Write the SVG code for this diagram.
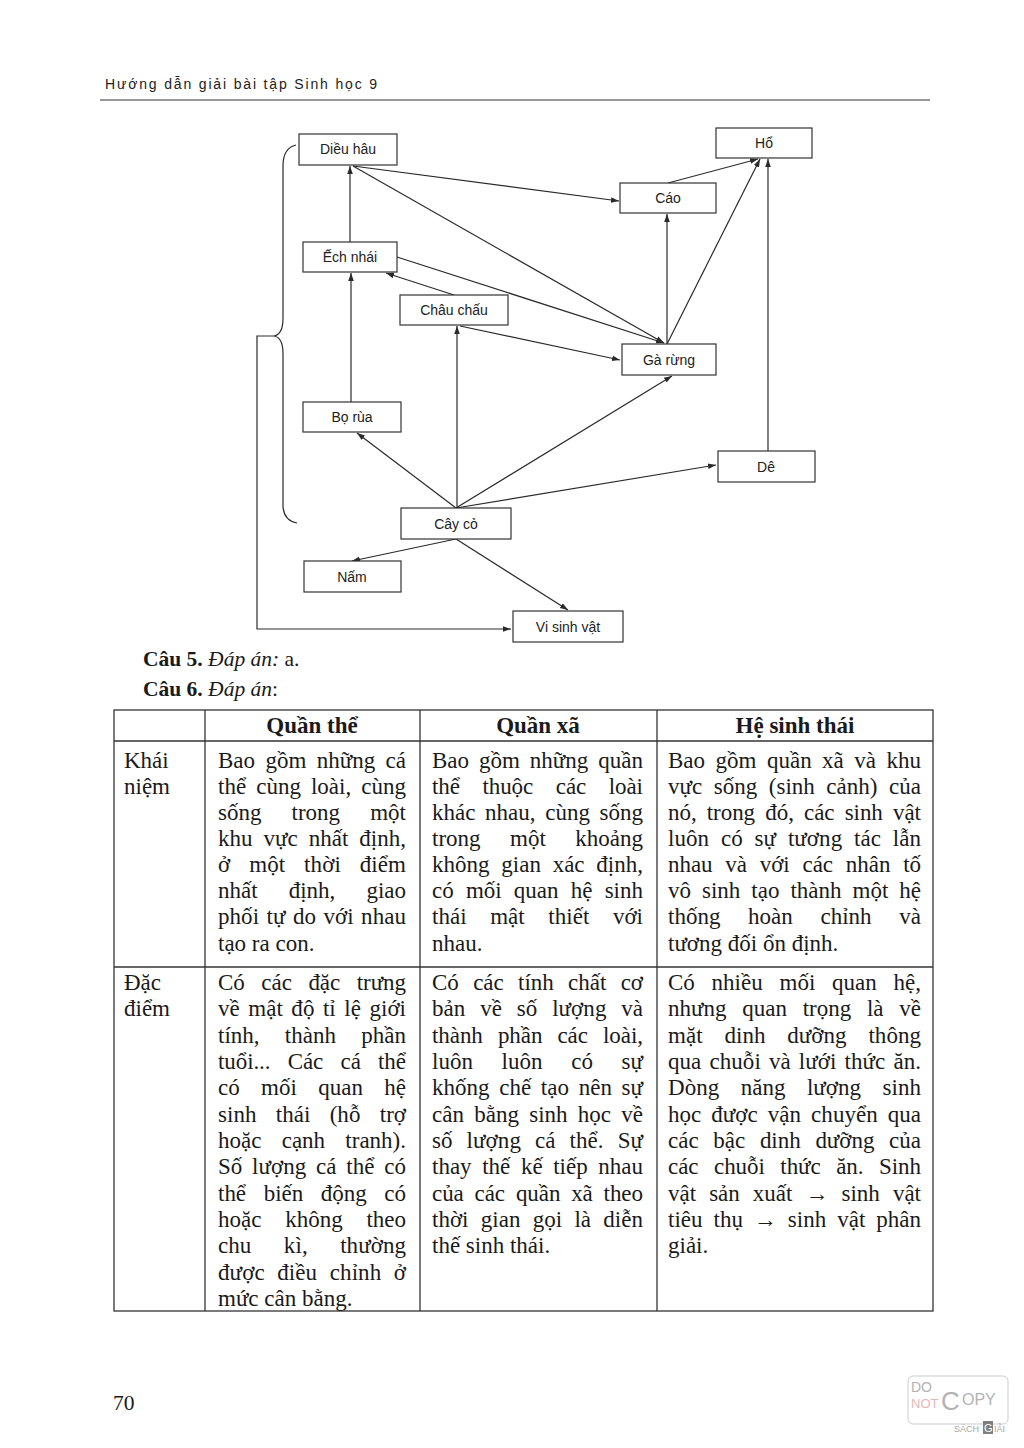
<svg xmlns="http://www.w3.org/2000/svg" width="1024" height="1448" viewBox="0 0 1024 1448">
<style>
.bg{fill:#fff}
.node rect{fill:#fff;stroke:#333;stroke-width:1.2}
.node text{font-family:"Liberation Sans",Arial,sans-serif;font-size:14px;fill:#222;text-anchor:middle}
.conn path{fill:none;stroke:#2a2a2a;stroke-width:1.2}
.hdr{font-family:"Liberation Sans",Arial,sans-serif;font-size:14px;fill:#222}
.tb{font-family:"Liberation Serif","Times New Roman",serif;font-size:23px;fill:#1a1a1a}
.th{font-family:"Liberation Serif","Times New Roman",serif;font-size:23px;font-weight:bold;fill:#1a1a1a;text-anchor:middle}
.q{font-family:"Liberation Serif","Times New Roman",serif;font-size:21.5px;fill:#1a1a1a}
.grid{stroke:#333;stroke-width:1.3;fill:none}
</style>
<defs>
<marker id="ah" viewBox="0 0 10 10" refX="10" refY="5" markerWidth="8" markerHeight="8" markerUnits="userSpaceOnUse" orient="auto"><path d="M0,1.5 L10,5 L0,8.5 z" fill="#2a2a2a"/></marker>
</defs>
<rect class="bg" x="0" y="0" width="1024" height="1448"/>

<!-- page header -->
<text class="hdr" x="105" y="89" textLength="272" lengthAdjust="spacing">Hướng dẫn giải bài tập Sinh học 9</text>
<line x1="100" y1="100" x2="930" y2="100" stroke="#333" stroke-width="1.2"/>

<!-- connectors -->
<g id="connectors" class="conn">
<path d="M350,242 L350,166" marker-end="url(#ah)"/>
<path d="M351,402 L351,273" marker-end="url(#ah)"/>
<path d="M454,295 L386,273" marker-end="url(#ah)"/>
<path d="M353,166 L619,201" marker-end="url(#ah)"/>
<path d="M353,166 L664,343" marker-end="url(#ah)"/>
<path d="M397,257 L664,343" marker-end="url(#ah)"/>
<path d="M667,344 L667,214" marker-end="url(#ah)"/>
<path d="M667,344 L760,159" marker-end="url(#ah)"/>
<path d="M668,183 L758,159" marker-end="url(#ah)"/>
<path d="M768,451 L768,159" marker-end="url(#ah)"/>
<path d="M460,326 L620,360" marker-end="url(#ah)"/>
<path d="M456,508 L357,433" marker-end="url(#ah)"/>
<path d="M457,508 L457,326" marker-end="url(#ah)"/>
<path d="M456,508 L672,376" marker-end="url(#ah)"/>
<path d="M456,508 L716,465" marker-end="url(#ah)"/>
<path d="M456,539 L352,561" marker-end="url(#ah)"/>
<path d="M456,539 L568,610" marker-end="url(#ah)"/>
<path d="M296,145 C287,147 283,155 283,166 L283,318 C283,330 280,335 274,336 C280,337 283,342 283,354 L283,505 C283,515 287,521 297,523"/>
<path d="M274,336 L257,336 L257,629 L511,629" marker-end="url(#ah)"/>
</g>

<!-- nodes -->
<g id="n-dieuhau" class="node"><rect x="299" y="134" width="98" height="31"/><text x="348" y="154">Diều hâu</text></g>
<g id="n-ho" class="node"><rect x="716" y="128" width="96" height="30"/><text x="764" y="148">Hổ</text></g>
<g id="n-cao" class="node"><rect x="620" y="183" width="96" height="30"/><text x="668" y="203">Cáo</text></g>
<g id="n-echnhai" class="node"><rect x="303" y="242" width="94" height="30"/><text x="350" y="262">Ếch nhái</text></g>
<g id="n-chauchau" class="node"><rect x="400" y="295" width="108" height="30"/><text x="454" y="315">Châu chấu</text></g>
<g id="n-garung" class="node"><rect x="622" y="344" width="94" height="31"/><text x="669" y="365">Gà rừng</text></g>
<g id="n-borua" class="node"><rect x="303" y="402" width="98" height="30"/><text x="352" y="422">Bọ rùa</text></g>
<g id="n-de" class="node"><rect x="718" y="451" width="97" height="31"/><text x="766" y="472">Dê</text></g>
<g id="n-cayco" class="node"><rect x="401" y="508" width="110" height="31"/><text x="456" y="529">Cây cỏ</text></g>
<g id="n-nam" class="node"><rect x="304" y="561" width="97" height="31"/><text x="352" y="582">Nấm</text></g>
<g id="n-visinhvat" class="node"><rect x="513" y="611" width="110" height="31"/><text x="568" y="632">Vi sinh vật</text></g>

<!-- questions -->
<text class="q" x="143" y="666"><tspan font-weight="bold">Câu 5.</tspan> <tspan font-style="italic">Đáp án:</tspan> a.</text>
<text class="q" x="143" y="696"><tspan font-weight="bold">Câu 6.</tspan> <tspan font-style="italic">Đáp án</tspan>:</text>

<!-- table -->
<g id="table">
<rect class="grid" x="114" y="710" width="819" height="601"/>
<line class="grid" x1="114" y1="741" x2="933" y2="741"/>
<line class="grid" x1="114" y1="967" x2="933" y2="967"/>
<line class="grid" x1="205" y1="710" x2="205" y2="1311"/>
<line class="grid" x1="420" y1="710" x2="420" y2="1311"/>
<line class="grid" x1="657" y1="710" x2="657" y2="1311"/>

<text class="th" x="312" y="733">Quần thể</text>
<text class="th" x="538" y="733">Quần xã</text>
<text class="th" x="795" y="733">Hệ sinh thái</text>

<text class="tb" x="124" y="768">Khái</text>
<text class="tb" x="124" y="794">niệm</text>

<g class="tb">
<text x="218" y="768" word-spacing="4.5" textLength="188" lengthAdjust="spacing">Bao gồm những cá</text>
<text x="218" y="794" word-spacing="4.3" textLength="188" lengthAdjust="spacing">thể cùng loài, cùng</text>
<text x="218" y="820" word-spacing="24.4" textLength="188" lengthAdjust="spacing">sống trong một</text>
<text x="218" y="846" word-spacing="5.1" textLength="188" lengthAdjust="spacing">khu vực nhất định,</text>
<text x="218" y="872" word-spacing="13.1" textLength="188" lengthAdjust="spacing">ở một thời điểm</text>
<text x="218" y="898" word-spacing="25.3" textLength="188" lengthAdjust="spacing">nhất định, giao</text>
<text x="218" y="924" word-spacing="1.6" textLength="188" lengthAdjust="spacing">phối tự do với nhau</text>
<text x="218" y="951">tạo ra con.</text>

<text x="432" y="768" word-spacing="4.1" textLength="211" lengthAdjust="spacing">Bao gồm những quần</text>
<text x="432" y="794" word-spacing="16.9" textLength="211" lengthAdjust="spacing">thể thuộc các loài</text>
<text x="432" y="820" word-spacing="3.9" textLength="211" lengthAdjust="spacing">khác nhau, cùng sống</text>
<text x="432" y="846" word-spacing="23.7" textLength="211" lengthAdjust="spacing">trong một khoảng</text>
<text x="432" y="872" word-spacing="6" textLength="211" lengthAdjust="spacing">không gian xác định,</text>
<text x="432" y="898" word-spacing="6.4" textLength="211" lengthAdjust="spacing">có mối quan hệ sinh</text>
<text x="432" y="924" word-spacing="17.8" textLength="211" lengthAdjust="spacing">thái mật thiết với</text>
<text x="432" y="951">nhau.</text>

<text x="668" y="768" word-spacing="4.7" textLength="253" lengthAdjust="spacing">Bao gồm quần xã và khu</text>
<text x="668" y="794" word-spacing="5.7" textLength="253" lengthAdjust="spacing">vực sống (sinh cảnh) của</text>
<text x="668" y="820" word-spacing="4.5" textLength="253" lengthAdjust="spacing">nó, trong đó, các sinh vật</text>
<text x="668" y="846" word-spacing="6" textLength="253" lengthAdjust="spacing">luôn có sự tương tác lẫn</text>
<text x="668" y="872" word-spacing="7.1" textLength="253" lengthAdjust="spacing">nhau và với các nhân tố</text>
<text x="668" y="898" word-spacing="5.2" textLength="253" lengthAdjust="spacing">vô sinh tạo thành một hệ</text>
<text x="668" y="924" word-spacing="21.9" textLength="253" lengthAdjust="spacing">thống hoàn chỉnh và</text>
<text x="668" y="951">tương đối ổn định.</text>
</g>

<text class="tb" x="124" y="990">Đặc</text>
<text class="tb" x="124" y="1016">điểm</text>

<g class="tb">
<text x="218" y="990" word-spacing="10.9" textLength="188" lengthAdjust="spacing">Có các đặc trưng</text>
<text x="218" y="1016" word-spacing="2.7" textLength="188" lengthAdjust="spacing">về mật độ tỉ lệ giới</text>
<text x="218" y="1043" word-spacing="19.6" textLength="188" lengthAdjust="spacing">tính, thành phần</text>
<text x="218" y="1069" word-spacing="11.6" textLength="188" lengthAdjust="spacing">tuổi... Các cá thể</text>
<text x="218" y="1095" word-spacing="15.6" textLength="188" lengthAdjust="spacing">có mối quan hệ</text>
<text x="218" y="1122" word-spacing="13.5" textLength="188" lengthAdjust="spacing">sinh thái (hỗ trợ</text>
<text x="218" y="1148" word-spacing="14.5" textLength="188" lengthAdjust="spacing">hoặc cạnh tranh).</text>
<text x="218" y="1174" word-spacing="3.9" textLength="188" lengthAdjust="spacing">Số lượng cá thể có</text>
<text x="218" y="1201" word-spacing="11.8" textLength="188" lengthAdjust="spacing">thể biến động có</text>
<text x="218" y="1227" word-spacing="18" textLength="188" lengthAdjust="spacing">hoặc không theo</text>
<text x="218" y="1253" word-spacing="26.6" textLength="188" lengthAdjust="spacing">chu kì, thường</text>
<text x="218" y="1280" word-spacing="6.7" textLength="188" lengthAdjust="spacing">được điều chỉnh ở</text>
<text x="218" y="1306">mức cân bằng.</text>

<text x="432" y="990" word-spacing="8.7" textLength="211" lengthAdjust="spacing">Có các tính chất cơ</text>
<text x="432" y="1016" word-spacing="9" textLength="211" lengthAdjust="spacing">bản về số lượng và</text>
<text x="432" y="1043" word-spacing="9.4" textLength="211" lengthAdjust="spacing">thành phần các loài,</text>
<text x="432" y="1069" word-spacing="22.8" textLength="211" lengthAdjust="spacing">luôn luôn có sự</text>
<text x="432" y="1095" word-spacing="3.9" textLength="211" lengthAdjust="spacing">khống chế tạo nên sự</text>
<text x="432" y="1122" word-spacing="4.5" textLength="211" lengthAdjust="spacing">cân bằng sinh học về</text>
<text x="432" y="1148" word-spacing="8.2" textLength="211" lengthAdjust="spacing">số lượng cá thể. Sự</text>
<text x="432" y="1174" word-spacing="4.8" textLength="211" lengthAdjust="spacing">thay thế kế tiếp nhau</text>
<text x="432" y="1201" word-spacing="5.2" textLength="211" lengthAdjust="spacing">của các quần xã theo</text>
<text x="432" y="1227" word-spacing="6.5" textLength="211" lengthAdjust="spacing">thời gian gọi là diễn</text>
<text x="432" y="1253">thế sinh thái.</text>

<text x="668" y="990" word-spacing="11" textLength="253" lengthAdjust="spacing">Có nhiều mối quan hệ,</text>
<text x="668" y="1016" word-spacing="9.9" textLength="253" lengthAdjust="spacing">nhưng quan trọng là về</text>
<text x="668" y="1043" word-spacing="16" textLength="253" lengthAdjust="spacing">mặt dinh dưỡng thông</text>
<text x="668" y="1069" word-spacing="2.3" textLength="253" lengthAdjust="spacing">qua chuỗi và lưới thức ăn.</text>
<text x="668" y="1095" word-spacing="15.6" textLength="253" lengthAdjust="spacing">Dòng năng lượng sinh</text>
<text x="668" y="1122" word-spacing="4.2" textLength="253" lengthAdjust="spacing">học được vận chuyển qua</text>
<text x="668" y="1148" word-spacing="9" textLength="253" lengthAdjust="spacing">các bậc dinh dưỡng của</text>
<text x="668" y="1174" word-spacing="9.7" textLength="253" lengthAdjust="spacing">các chuỗi thức ăn. Sinh</text>
<text x="668" y="1201" word-spacing="7.3" textLength="253" lengthAdjust="spacing">vật sản xuất → sinh vật</text>
<text x="668" y="1227" word-spacing="5.2" textLength="253" lengthAdjust="spacing">tiêu thụ → sinh vật phân</text>
<text x="668" y="1253">giải.</text>
</g>
</g>

<!-- page number -->
<text class="q" x="113" y="1410" font-size="24">70</text>

<!-- watermark logo -->
<g id="watermark" opacity="0.75">
<rect x="908" y="1376" width="100" height="48" rx="5" fill="none" stroke="#bbb" stroke-width="1"/>
<text x="911" y="1392" font-family="Liberation Sans,Arial,sans-serif" font-size="14" fill="#999">DO</text>
<text x="911" y="1408" font-family="Liberation Sans,Arial,sans-serif" font-size="13" fill="#d9a0a0">NOT</text>
<text x="941" y="1410" font-family="Liberation Sans,Arial,sans-serif" font-size="26" fill="#999">C</text>
<text x="962" y="1405" font-family="Liberation Sans,Arial,sans-serif" font-size="16" fill="#999">OPY</text>
<text x="954" y="1432" font-family="Liberation Sans,Arial,sans-serif" font-size="9" fill="#888">SÁCH</text>
<rect x="983" y="1421" width="10" height="13" fill="#555"/>
<text x="984" y="1432" font-family="Liberation Sans,Arial,sans-serif" font-size="11" fill="#fff">G</text>
<text x="994" y="1432" font-family="Liberation Sans,Arial,sans-serif" font-size="9" fill="#888">IẢI</text>
</g>
</svg>
